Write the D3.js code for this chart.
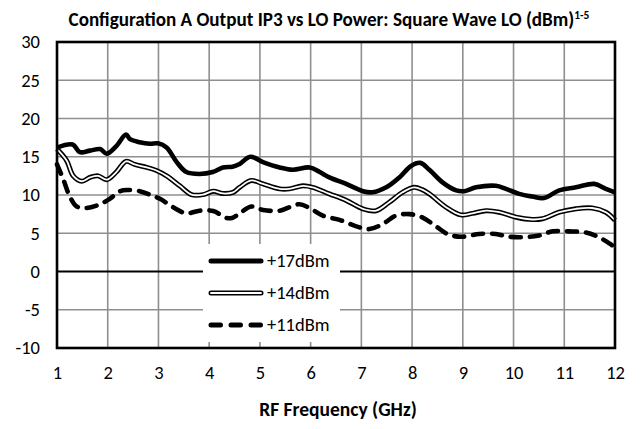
<!DOCTYPE html>
<html>
<head>
<meta charset="utf-8">
<script src="https://cdn.jsdelivr.net/npm/d3@7/dist/d3.min.js"></script>
<style>
  html, body { margin: 0; padding: 0; background: #fff; }
  svg { display: block; }
  text { font-family: Carlito, Calibri, Lato, "Open Sans", sans-serif; fill: #000; }
</style>
</head>
<body>
<svg id="chart" width="642" height="429"></svg>
<script>
// IP3 (dBm) against RF frequency (GHz) for three LO drive levels
const freq17 = [1.0, 1.31, 1.45, 1.65, 1.85, 1.98, 2.17, 2.36, 2.44, 2.63, 2.83, 2.99, 3.16, 3.36, 3.55, 3.81, 4.07, 4.27, 4.46, 4.6, 4.81, 5.06, 5.39, 5.65, 5.98, 6.18, 6.37, 6.7, 7.03, 7.22, 7.49, 7.75, 7.98, 8.16, 8.34, 8.6, 8.87, 9.03, 9.26, 9.65, 9.85, 10.11, 10.37, 10.6, 10.9, 11.23, 11.59, 11.82, 12.0];
const ip3_17 = [16.2, 16.6, 15.6, 15.8, 16.0, 15.4, 16.4, 17.9, 17.3, 16.9, 16.7, 16.75, 16.2, 14.3, 13.0, 12.75, 13.0, 13.6, 13.7, 14.05, 15.0, 14.3, 13.6, 13.3, 13.6, 13.0, 12.3, 11.45, 10.5, 10.35, 11.0, 12.3, 13.8, 14.2, 13.3, 11.65, 10.6, 10.5, 11.0, 11.2, 10.8, 10.15, 9.8, 9.6, 10.6, 11.0, 11.45, 10.8, 10.35];

const freq14 = [1.0, 1.19, 1.32, 1.49, 1.65, 1.81, 1.98, 2.17, 2.36, 2.53, 2.77, 2.96, 3.16, 3.42, 3.65, 3.88, 4.08, 4.27, 4.47, 4.6, 4.83, 5.06, 5.39, 5.58, 5.85, 6.04, 6.37, 6.7, 7.03, 7.29, 7.55, 7.81, 8.04, 8.2, 8.34, 8.67, 8.96, 9.19, 9.46, 9.72, 10.05, 10.37, 10.57, 10.9, 11.23, 11.55, 11.82, 12.0];
const ip3_14 = [16.0, 14.5, 12.5, 11.8, 12.3, 12.5, 12.0, 13.0, 14.4, 14.0, 13.6, 13.2, 12.5, 11.2, 10.05, 10.05, 10.5, 10.2, 10.35, 11.0, 11.9, 11.45, 10.8, 10.8, 11.2, 11.0, 10.15, 9.3, 8.2, 7.95, 9.05, 10.35, 11.0, 10.7, 10.15, 8.4, 7.4, 7.6, 7.95, 7.75, 7.1, 6.8, 6.9, 7.75, 8.2, 8.3, 7.75, 6.7];

const freq11 = [1.0, 1.12, 1.26, 1.39, 1.58, 1.85, 2.04, 2.24, 2.4, 2.63, 2.83, 3.03, 3.29, 3.55, 3.81, 4.08, 4.34, 4.45, 4.6, 4.83, 5.06, 5.39, 5.58, 5.78, 5.98, 6.24, 6.57, 6.9, 7.16, 7.42, 7.68, 7.95, 8.21, 8.47, 8.73, 9.0, 9.32, 9.65, 9.91, 10.24, 10.5, 10.77, 11.09, 11.42, 11.68, 11.95, 12.0];
const ip3_11 = [14.0, 12.1, 9.7, 8.5, 8.3, 8.8, 9.5, 10.5, 10.65, 10.5, 10.05, 9.5, 8.4, 7.6, 7.95, 7.9, 7.0, 7.0, 7.6, 8.5, 8.05, 7.95, 8.4, 8.8, 8.3, 7.3, 6.75, 5.9, 5.55, 6.2, 7.3, 7.5, 7.05, 5.9, 4.8, 4.55, 4.9, 4.9, 4.55, 4.5, 4.7, 5.25, 5.25, 5.1, 4.5, 3.4, 3.2];

const seriesNames = ["+17dBm", "+14dBm", "+11dBm"];
const xTicks = [1, 2, 3, 4, 5, 6, 7, 8, 9, 10, 11, 12];
const yTicks = [-10, -5, 0, 5, 10, 15, 20, 25, 30];

const titleText = "Configuration A Output IP3 vs LO Power: Square Wave LO (dBm)";
const titleSup = "1-5";
const xTitle = "RF Frequency (GHz)";

const svg = d3.select("#chart");
const plot = { left: 57, right: 615, top: 42, bottom: 348 };

const x = d3.scaleLinear().domain([1, 12]).range([plot.left, plot.right]);
const y = d3.scaleLinear().domain([-10, 30]).range([plot.bottom, plot.top]);

// gridlines
const grid = svg.append("g");
grid.selectAll("line.vg").data(xTicks.slice(1, -1)).join("line")
  .attr("x1", d => x(d)).attr("x2", d => x(d))
  .attr("y1", plot.top).attr("y2", plot.bottom)
  .attr("stroke", "#8f8f8f").attr("stroke-width", 1.6);
grid.selectAll("line.hg").data(yTicks.filter(d => d !== 0 && d !== -10 && d !== 30)).join("line")
  .attr("x1", plot.left).attr("x2", plot.right)
  .attr("y1", d => y(d)).attr("y2", d => y(d))
  .attr("stroke", "#8f8f8f").attr("stroke-width", 1.6);
// zero line
svg.append("line")
  .attr("x1", plot.left).attr("x2", plot.right)
  .attr("y1", y(0)).attr("y2", y(0))
  .attr("stroke", "#000").attr("stroke-width", 1.8);

const tickFont = 18.5;

// y axis labels (plain hyphen for negatives)
const yAxis = d3.axisLeft(y).tickValues(yTicks).tickSize(0).tickPadding(17).tickFormat(d => String(d));
svg.append("g").attr("transform", `translate(${plot.left},0)`).call(yAxis)
  .call(g => g.select(".domain").remove())
  .selectAll("text").attr("font-size", tickFont).attr("font-family", "Carlito, Calibri, Lato, sans-serif");

// x axis labels
const xAxis = d3.axisBottom(x).tickValues(xTicks).tickSize(0).tickPadding(18).tickFormat(d => String(d));
svg.append("g").attr("transform", `translate(0,${plot.bottom})`).call(xAxis)
  .call(g => g.select(".domain").remove())
  .selectAll("text").attr("font-size", tickFont).attr("font-family", "Carlito, Calibri, Lato, sans-serif");

// series lines
const line = d3.line().x(d => x(d[0])).y(d => y(d[1])).curve(d3.curveCatmullRom.alpha(0.5));
const pts17 = freq17.map((f, i) => [f, ip3_17[i]]);
const pts14 = freq14.map((f, i) => [f, ip3_14[i]]);
const pts11 = freq11.map((f, i) => [f, ip3_11[i]]);

const lines = svg.append("g");
lines.append("path").attr("d", line(pts11)).attr("fill", "none")
  .attr("stroke", "#000").attr("stroke-width", 4.6)
  .attr("stroke-dasharray", "10,9").attr("stroke-linecap", "round");
lines.append("path").attr("d", line(pts14)).attr("fill", "none")
  .attr("stroke", "#000").attr("stroke-width", 5).attr("stroke-linejoin", "round");
lines.append("path").attr("d", line(pts14)).attr("fill", "none")
  .attr("stroke", "#fff").attr("stroke-width", 1.8).attr("stroke-linejoin", "round");
lines.append("path").attr("d", line(pts17)).attr("fill", "none")
  .attr("stroke", "#000").attr("stroke-width", 4.6).attr("stroke-linejoin", "round");

// legend
const legend = svg.append("g");
legend.append("rect").attr("x", 203).attr("y", 244).attr("width", 137).attr("height", 98).attr("fill", "#fff");
const legY = [261, 293, 325];
const legStyles = [
  { w: 5, dash: null, inner: false },
  { w: 5, dash: null, inner: true },
  { w: 5, dash: "9.5,10.5", inner: false }
];
seriesNames.forEach((name, i) => {
  const s = legStyles[i];
  const l = legend.append("line").attr("x1", 211).attr("x2", 261)
    .attr("y1", legY[i]).attr("y2", legY[i])
    .attr("stroke", "#000").attr("stroke-width", s.w).attr("stroke-linecap", "round");
  if (s.dash) l.attr("stroke-dasharray", s.dash);
  if (s.inner) {
    legend.append("line").attr("x1", 211).attr("x2", 261)
      .attr("y1", legY[i]).attr("y2", legY[i])
      .attr("stroke", "#fff").attr("stroke-width", 1.8).attr("stroke-linecap", "round");
  }
  legend.append("text").attr("x", 267).attr("y", legY[i]).attr("dy", "0.35em")
    .attr("font-size", tickFont).text(name);
});

// plot frame
svg.append("rect").attr("x", plot.left).attr("y", plot.top)
  .attr("width", plot.right - plot.left).attr("height", plot.bottom - plot.top)
  .attr("fill", "none").attr("stroke", "#000").attr("stroke-width", 2.6);

// titles
const t = svg.append("text").attr("x", 329).attr("y", 26).attr("text-anchor", "middle")
  .attr("font-size", 19.1).attr("font-weight", "bold");
t.append("tspan").text(titleText);
t.append("tspan").attr("font-size", 11.5).attr("dy", -7).text(titleSup);

svg.append("text").attr("x", 338).attr("y", 416).attr("text-anchor", "middle")
  .attr("font-size", 19.5).attr("font-weight", "bold").text(xTitle);
</script>
</body>
</html>
